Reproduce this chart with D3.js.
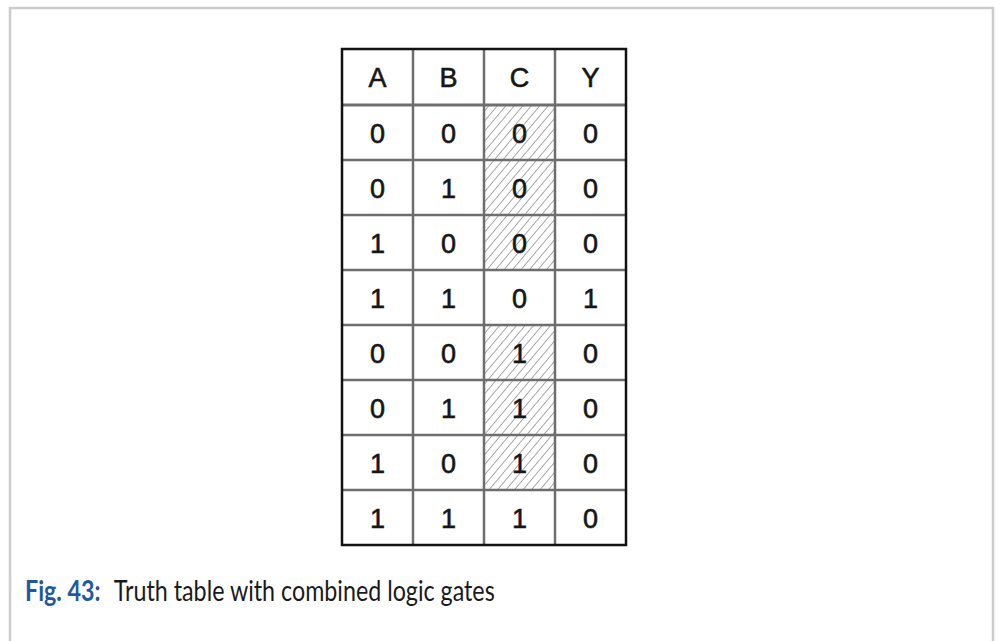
<!DOCTYPE html>
<html><head><meta charset="utf-8">
<script src="https://cdn.jsdelivr.net/npm/d3@7"></script>
<style>html,body{margin:0;padding:0;background:#fff;}svg{display:block;}</style>
</head><body>
<script>
const columns = ["A","B","C","Y"];
const colA = [0,0,1,1,0,0,1,1];
const colB = [0,1,0,1,0,1,0,1];
const colC = [0,0,0,0,1,1,1,1];
const colY = [0,0,0,1,0,0,0,0];
const hatchedC = [true,true,true,false,true,true,true,false];
const captionLabel = "Fig. 43:";
const captionText = "Truth table with combined logic gates";

const W = 1000, H = 641;
const svg = d3.select("body").append("svg").attr("width", W).attr("height", H);

const defs = svg.append("defs");
const pat = defs.append("pattern").attr("id","hatch").attr("patternUnits","userSpaceOnUse")
  .attr("width",6.5).attr("height",6.5).attr("patternTransform","rotate(40)");
pat.append("line").attr("x1",0).attr("y1",0).attr("x2",0).attr("y2",6.5)
  .attr("stroke","#7a7a7a").attr("stroke-width",1.3);

// frame
svg.append("path").attr("d", `M10,${H+5} L10,8 L993,8 L993,${H+5}`)
  .attr("fill","none").attr("stroke","#cccccc").attr("stroke-width",2.5);

const rows = colA.map((a,i)=>({A:a,B:colB[i],C:colC[i],Y:colY[i],h:hatchedC[i]}));

const x = d3.scaleBand().domain(columns).range([342,626]);
const headerTop = 49, headerBottom = 105, tableBottom = 545;
const y = d3.scaleBand().domain(d3.range(rows.length)).range([headerBottom, tableBottom]);

const g = svg.append("g");
g.selectAll("rect.h").data(rows.map((r,i)=>({r,i})).filter(d=>d.r.h)).join("rect")
  .attr("x", x("C")).attr("y", d=>y(d.i)).attr("width", x.bandwidth()).attr("height", y.bandwidth())
  .attr("fill","url(#hatch)");

const gridColor = "#6e6e6e";
columns.slice(1).forEach(c=>{
  g.append("line").attr("x1",x(c)).attr("x2",x(c)).attr("y1",headerTop).attr("y2",tableBottom)
    .attr("stroke",gridColor).attr("stroke-width",2.5);
});
g.append("line").attr("x1",342).attr("x2",626).attr("y1",headerBottom).attr("y2",headerBottom)
  .attr("stroke",gridColor).attr("stroke-width",3);
d3.range(1,rows.length).forEach(i=>{
  g.append("line").attr("x1",342).attr("x2",626).attr("y1",y(i)).attr("y2",y(i))
    .attr("stroke",gridColor).attr("stroke-width",2.5);
});
g.append("rect").attr("x",342).attr("y",headerTop).attr("width",626-342).attr("height",tableBottom-headerTop)
  .attr("fill","none").attr("stroke","#111").attr("stroke-width",2.5);

const font = "'Liberation Sans', Arial, sans-serif";
function cellText(sel){
  sel.attr("text-anchor","middle").attr("font-family",font).attr("font-size",27)
    .attr("fill","#161616").attr("stroke","#161616").attr("stroke-width",0.6);
}
g.selectAll("text.hd").data(columns).join("text")
  .attr("x", c=>x(c)+x.bandwidth()/2).attr("y",(headerTop+headerBottom)/2+10)
  .call(cellText).text(c=>c);
rows.forEach((r,i)=>{
  columns.forEach(c=>{
    g.append("text").attr("x",x(c)+x.bandwidth()/2).attr("y",y(i)+y.bandwidth()/2+10)
      .call(cellText).text(r[c]);
  });
});

// caption
const capG = svg.append("g").attr("transform","translate(25,601)");
const cap = capG.append("text").attr("x",0).attr("y",0).attr("font-family","Lato, 'Open Sans', sans-serif")
  .attr("font-size",28);
cap.append("tspan").attr("fill","#1f58a0").attr("font-weight",700).text(captionLabel);
cap.append("tspan").attr("fill","#1a1a1a").attr("dx",16).text(captionText);
const bb = cap.node().getBBox();
const targetWidth = 470;
capG.attr("transform",`translate(25,601) scale(${targetWidth/bb.width},1)`);
</script>
</body></html>
